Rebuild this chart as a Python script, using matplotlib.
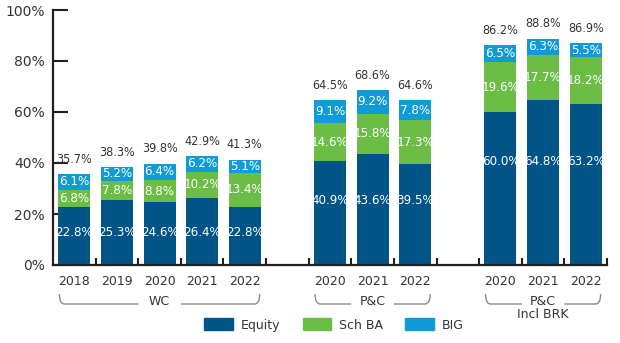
import matplotlib
matplotlib.use("Agg")
import matplotlib.pyplot as plt
from matplotlib.path import Path
from matplotlib.patches import PathPatch, Patch
import matplotlib.transforms as mtransforms
from matplotlib import font_manager
from matplotlib.font_manager import FontProperties

years = ["2018", "2019", "2020", "2021", "2022", "", "2020", "2021", "2022", "", "2020", "2021", "2022"]
equity = [22.8, 25.3, 24.6, 26.4, 22.8, None, 40.9, 43.6, 39.5, None, 60.0, 64.8, 63.2]
sch_ba = [6.8, 7.8, 8.8, 10.2, 13.4, None, 14.6, 15.8, 17.3, None, 19.6, 17.7, 18.2]
big = [6.1, 5.2, 6.4, 6.2, 5.1, None, 9.1, 9.2, 7.8, None, 6.5, 6.3, 5.5]
totals = [35.7, 38.3, 39.8, 42.9, 41.3, None, 64.5, 68.6, 64.6, None, 86.2, 88.8, 86.9]
groups = [("WC", 0, 4), ("P&C", 6, 8), ("P&C\nIncl BRK", 10, 12)]
yticks = [0, 20, 40, 60, 80, 100]
ytick_labels = ["0%", "20%", "40%", "60%", "80%", "100%"]

C_EQ = "#005488"
C_SCH = "#6cbd45"
C_BIG = "#0f9bd7"
C_AX = "#231f20"
C_TXT = "#333333"


def find_narrow():
    cands = []
    for f in font_manager.fontManager.ttflist:
        fn = f.fname.lower()
        if ("narrow" in fn or "condensed" in fn) and "bold" not in fn and "italic" not in fn \
                and "oblique" not in fn and "semi" not in fn and "light" not in fn:
            cands.append(f.fname)
    cands.sort(key=lambda s: (0 if "liberation" in s.lower() else 1 if "dejavu" in s.lower() else 2, s))
    return cands[0] if cands else None


nfile = find_narrow()
if nfile:
    val_fp = FontProperties(fname=nfile, size=9.5)
    tot_fp = FontProperties(fname=nfile, size=9)
else:
    val_fp = FontProperties(family="Liberation Sans", size=8)
    tot_fp = FontProperties(family="Liberation Sans", size=8)

plt.rcParams['font.family'] = ['DejaVu Sans']

fig = plt.figure(figsize=(6.2, 3.43), dpi=100)
ax = fig.add_axes([53/620, 1-265/343, (607-53)/620, 255/343])

xs = [i for i, v in enumerate(equity) if v is not None]
eq = [equity[i] for i in xs]
sb = [sch_ba[i] for i in xs]
bg = [big[i] for i in xs]
tt = [totals[i] for i in xs]
w = 0.75
ax.bar(xs, eq, width=w, color=C_EQ, zorder=2)
ax.bar(xs, sb, width=w, bottom=eq, color=C_SCH, zorder=2)
ax.bar(xs, bg, width=w, bottom=[a + b for a, b in zip(eq, sb)], color=C_BIG, zorder=2)

# equity labels sit at one common height per group
eq_label_y = {}
for _, a, b in groups:
    m = min(equity[a:b + 1])
    for i in range(a, b + 1):
        eq_label_y[i] = 0.742 * m - 4

for x, e, s, b, t in zip(xs, eq, sb, bg, tt):
    ax.text(x, eq_label_y[x], f"{e:.1f}%", color="white", ha="center", va="center",
            fontproperties=val_fp, zorder=3)
    ax.text(x, e + s / 2, f"{s:.1f}%", color="white", ha="center", va="center",
            fontproperties=val_fp, zorder=3)
    ax.text(x, e + s + b / 2, f"{b:.1f}%", color="white", ha="center", va="center",
            fontproperties=val_fp, zorder=3)
    ax.annotate(f"{t:.1f}%", (x, e + s + b), xytext=(0, 6), textcoords="offset points",
                ha="center", va="bottom", color=C_TXT, fontproperties=tot_fp)

ax.set_xlim(-0.5, 12.5)
ax.set_ylim(0, 100)
for side in ["top", "right"]:
    ax.spines[side].set_visible(False)
for side in ["left", "bottom"]:
    ax.spines[side].set_linewidth(1.6)
    ax.spines[side].set_color(C_AX)

ax.set_yticks(yticks)
ax.set_yticklabels(ytick_labels, fontsize=10, color=C_TXT)
ax.tick_params(axis="y", direction="in", length=10.5, width=1.5, color=C_AX, pad=6)

ax.set_xticks(xs)
ax.set_xticklabels([years[i] for i in xs], fontsize=9, color=C_TXT)
ax.tick_params(axis="x", which="major", length=0, pad=7)
ax.set_xticks([i + 0.5 for i in range(13)], minor=True)
ax.tick_params(axis="x", which="minor", direction="in", length=5, width=1.5, color=C_AX)

trans = mtransforms.blended_transform_factory(ax.transData, ax.transAxes)
y_line = -39 / 255
y_top = -29 / 255
for label, a, b in groups:
    x0, x1 = a - 0.35, b + 0.35
    cx = (a + b) / 2
    gap = 0.5
    dx = 0.12
    codes = [Path.MOVETO, Path.CURVE3, Path.CURVE3, Path.LINETO]
    for xe, sgn in ((x0, 1), (x1, -1)):
        verts = [(xe, y_top), (xe, y_line), (xe + sgn * dx, y_line), (cx - sgn * gap, y_line)]
        ax.add_patch(PathPatch(Path(verts, codes), transform=trans, fill=False, lw=1.0,
                               edgecolor="#8a8a8a", clip_on=False))
    ax.text(cx, -30 / 255, label, transform=trans, ha="center", va="top",
            fontsize=9, color=C_TXT, linespacing=1.0)

handles = [Patch(color=C_EQ, label="Equity"), Patch(color=C_SCH, label="Sch BA"),
           Patch(color=C_BIG, label="BIG")]
fig.legend(handles=handles, loc="center", bbox_to_anchor=(334/620, 1 - 325/343), ncol=3,
           frameon=False, fontsize=9, handlelength=2.25, handleheight=1.1,
           columnspacing=1.8, handletextpad=0.65, labelcolor=C_TXT)

fig.savefig("out.png", dpi=100)
